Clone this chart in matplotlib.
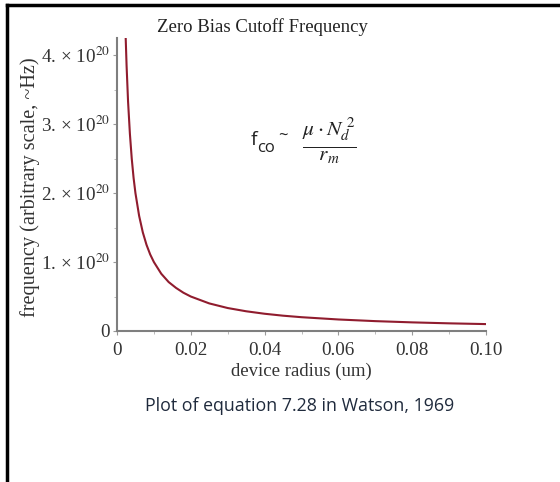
import matplotlib.pyplot as plt
from matplotlib.lines import Line2D

# values (radius in um, frequency in Hz)
radius = [0.0023, 0.0026, 0.003, 0.0035, 0.004, 0.0045, 0.005, 0.006, 0.007,
          0.008, 0.009, 0.010, 0.012, 0.014, 0.016, 0.018, 0.020, 0.025,
          0.030, 0.035, 0.040, 0.045, 0.050, 0.060, 0.070, 0.080, 0.090, 0.100]
freq = [4.35e20, 3.85e20, 3.33e20, 2.86e20, 2.5e20, 2.22e20, 2.0e20, 1.67e20,
        1.43e20, 1.25e20, 1.11e20, 1.0e20, 8.3e19, 7.1e19, 6.25e19, 5.55e19,
        5.0e19, 4.0e19, 3.33e19, 2.86e19, 2.5e19, 2.22e19, 2.0e19, 1.67e19,
        1.43e19, 1.25e19, 1.11e19, 1.0e19]

x_ticks = [0, 0.02, 0.04, 0.06, 0.08, 0.10]
x_labels = ['0', '0.02', '0.04', '0.06', '0.08', '0.10']
y_ticks = [0, 1e20, 2e20, 3e20, 4e20]
y_labels = ['0', '1. × 10$^{20}$', '2. × 10$^{20}$',
            '3. × 10$^{20}$', '4. × 10$^{20}$']

plt.rcParams['font.family'] = ['Liberation Serif', 'DejaVu Serif']
plt.rcParams['mathtext.fontset'] = 'stix'

fig = plt.figure(figsize=(5.6, 4.82), dpi=100)
ax = fig.add_axes([0.2089, 0.3133, 0.659, 0.6079])

ax.plot(radius, freq, color='#901c2e', lw=1.5, clip_on=True)
ax.set_xlim(0, 0.1)
ax.set_ylim(0, 4.25e20)

ax.set_xticks(x_ticks)
ax.set_xticklabels(x_labels)
ax.set_xticks([0.01, 0.03, 0.05, 0.07, 0.09], minor=True)
ax.set_yticks(y_ticks)
ax.set_yticklabels(y_labels, fontsize=14.5)
ax.set_yticks([0.5e20, 1.5e20, 2.5e20, 3.5e20], minor=True)

for s in ['top', 'right']:
    ax.spines[s].set_visible(False)
for s in ['left', 'bottom']:
    ax.spines[s].set_color('#7f7f7f')
    ax.spines[s].set_linewidth(1.5)
ax.tick_params(which='major', length=3, color='#9a9a9a', labelsize=13.8,
               labelcolor='#333333')
ax.tick_params(axis='y', which='major', pad=2)
ax.tick_params(axis='x', which='major', pad=5)
ax.tick_params(which='minor', length=2, color='#b0b0b0')

fig.text(0.468, 0.944, 'Zero Bias Cutoff Frequency', fontsize=13.5,
         ha='center', va='center', color='#222222')
fig.text(0.538, 0.229, 'device radius (um)', fontsize=13.5,
         ha='center', va='center', color='#333333')
fig.text(0.054, 0.612, 'frequency (arbitrary scale, ~Hz)', fontsize=14.6,
         rotation=90, ha='center', va='center', color='#333333')
fig.text(0.535, 0.158, 'Plot of equation 7.28 in Watson, 1969', fontsize=12.8,
         family='Open Sans', ha='center', va='center', color='#1f2a3c')

# formula annotation
fig.text(0.447, 0.71, 'f', fontsize=14, family='Open Sans',
         ha='left', va='center', color='#222222')
fig.text(0.459, 0.693, 'co', fontsize=12, family='Open Sans',
         ha='left', va='center', color='#222222')
fig.text(0.497, 0.716, '~', fontsize=12, family='Open Sans',
         ha='left', va='center', color='#222222')
fig.text(0.589, 0.708, r'$\frac{\mu\cdot N_d^{\ 2}}{r_m}$', fontsize=22,
         ha='center', va='center', color='#222222')

# black frame lines on top and left edges
fig.add_artist(Line2D([0.0125, 1.0], [0.989, 0.989], color='black', lw=2.5,
                      transform=fig.transFigure))
fig.add_artist(Line2D([0.0125, 0.0125], [0.0, 0.989], color='black', lw=2.5,
                      transform=fig.transFigure))

fig.savefig('out.png', dpi=100)
